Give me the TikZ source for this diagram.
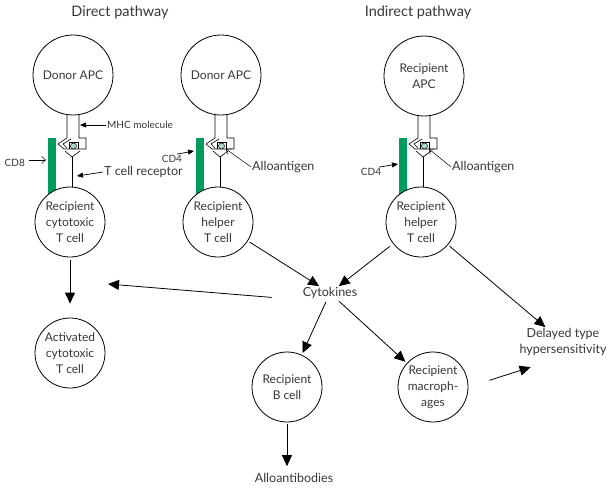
\documentclass[tikz,border=0pt]{standalone}
\usepackage{fontspec}
\setmainfont{Lato}
\usetikzlibrary{arrows.meta, positioning, calc}
\definecolor{green1}{RGB}{0, 155, 95}
\definecolor{antigen1}{RGB}{175, 218, 200}
\definecolor{text1}{RGB}{55, 55, 55}

\begin{document}
\begin{tikzpicture}[x=1pt, y=-1pt,
  cell/.style={circle, draw, fill=white, minimum size=70pt, inner sep=0pt, align=center, text=text1, font=\fontsize{12}{16}\selectfont, line width=0.8pt},
  apc/.style={cell, minimum size=80pt},
  lbl/.style={text=text1, font=\fontsize{12.5}{16}\selectfont, inner sep=1pt},
  small/.style={text=text1, font=\fontsize{10}{12}\selectfont, inner sep=1pt},
  title/.style={text=text1, font=\fontsize{14.5}{17}\selectfont},
  big/.style={-{Triangle[length=11pt, width=10pt]}, line width=0.8pt},
  thin/.style={-{Triangle[length=6pt, width=5pt]}, line width=0.7pt},
  open/.style={-{Straight Barb[length=4pt, width=7pt]}, line width=0.5pt}
]
  \useasboundingbox (0,0) rectangle (611,490);

  % titles
  \node[title] (direct) at (120,12) {Direct pathway};
  \node[title] (indirect) at (418,12) {Indirect pathway};

  % receptor assemblies: coreceptor, MHC, antigen, TCR
  \foreach \m in {73,221,424} {
    \fill[green1] (\m-25,138) rectangle (\m-17,205);
    \draw[fill=white, line width=0.6pt] (\m-6,108) -- (\m-6,138) -- (\m-15,144) -- (\m-9,149)
      -- (\m+13,149) -- (\m+13,138) -- (\m+6,138) -- (\m+6,108);
    \draw[line width=0.6pt] (\m-2,139) -- (\m-10,144) -- (\m-6,148);
    \draw[line width=0.6pt] (\m-4,149) -- (\m-4,142) -- (\m+5,142) -- (\m+5,149);
    \draw[fill=antigen1, line width=0.5pt] (\m+0.5,146) circle (3pt);
    \draw[line width=0.6pt] (\m-8,151) -- (\m-1,157) -- (\m+7,151);
    \draw[line width=0.6pt] (\m-1,157) -- (\m-1,195);
  }

  % cells
  \node[apc] (donor1) at (73,75) {Donor APC};
  \node[apc] (donor2) at (221,75) {Donor APC};
  \node[apc] (recapc) at (424,76) {Recipient\\APC};
  \node[cell] (cyto) at (70,222) {Recipient\\cytotoxic\\T cell};
  \node[cell] (helper1) at (218,222) {Recipient\\helper\\T cell};
  \node[cell] (helper2) at (421,222) {Recipient\\helper\\T cell};
  \node[cell] (activ) at (70,353) {Activated\\cytotoxic\\T cell};
  \node[cell] (bcell) at (287,387) {Recipient\\B cell};
  \node[cell] (macro) at (433,387) {Recipient\\macroph-\\ages};

  % products
  \node[lbl] (cytok) at (330,293) {Cytokines};
  \node[lbl, align=center] (dth) at (563,342) {Delayed type\\hypersensitivity};
  \node[lbl] (antib) at (294,478) {Alloantibodies};

  % molecule labels
  \node[small, anchor=west] (mhclbl) at (106,125) {MHC molecule};
  \coordinate (mhcpt) at (80,125);
  \draw[thin] (mhclbl.west) -- (mhcpt);
  \node[lbl, anchor=west] (tcrlbl) at (103,172) {T cell receptor};
  \coordinate (tcrpt) at (77,176);
  \draw[thin] (tcrlbl.west) -- (tcrpt);
  \node[small, anchor=east] (cd8lbl) at (26,163) {CD8};
  \coordinate (cd8pt) at (46,160);
  \draw[open] ([xshift=3pt, yshift=3pt]cd8lbl.east) -- (cd8pt);
  \node[small] (cd4a) at (172,159) {CD4};
  \coordinate (cd4apt) at (194,151);
  \draw[thin] ([xshift=5pt]cd4a.north) -- (cd4apt);
  \node[small] (cd4b) at (371,172) {CD4};
  \coordinate (cd4bpt) at (398,164);
  \draw[thin] ([xshift=8pt]cd4b.north) -- (cd4bpt);
  \node[lbl, anchor=west] (allo1) at (251,167) {Alloantigen};
  \coordinate (allo1pt) at (226,149);
  \draw[open] (allo1.west) -- (allo1pt);
  \node[lbl, anchor=west] (allo2) at (451,167) {Alloantigen};
  \coordinate (allo2pt) at (429,149);
  \draw[open] (allo2.west) -- (allo2pt);

  % pathways
  \draw[big, shorten <=3pt, shorten >=14pt] (cyto) -- (activ);
  \draw[big, shorten <=2pt] (helper1) -- (cytok);
  \draw[big, shorten <=4pt] (helper2) -- (cytok);
  \draw[big, shorten <=2pt] (helper2) -- (dth);
  \coordinate (leftend) at (108,284);
  \draw[big, shorten <=30pt] (cytok.south west) -- (leftend);
  \draw[big, shorten <=2pt, shorten >=2pt] (cytok) -- (bcell);
  \draw[big, shorten <=2pt, shorten >=2pt] (cytok) -- (macro);
  \draw[big, shorten <=22pt, shorten >=34pt] (macro.east) -- (dth.south);
  \draw[big, shorten <=2pt, shorten >=6pt] (bcell.south) -- (bcell.south |- antib.north);
\end{tikzpicture}
\end{document}
